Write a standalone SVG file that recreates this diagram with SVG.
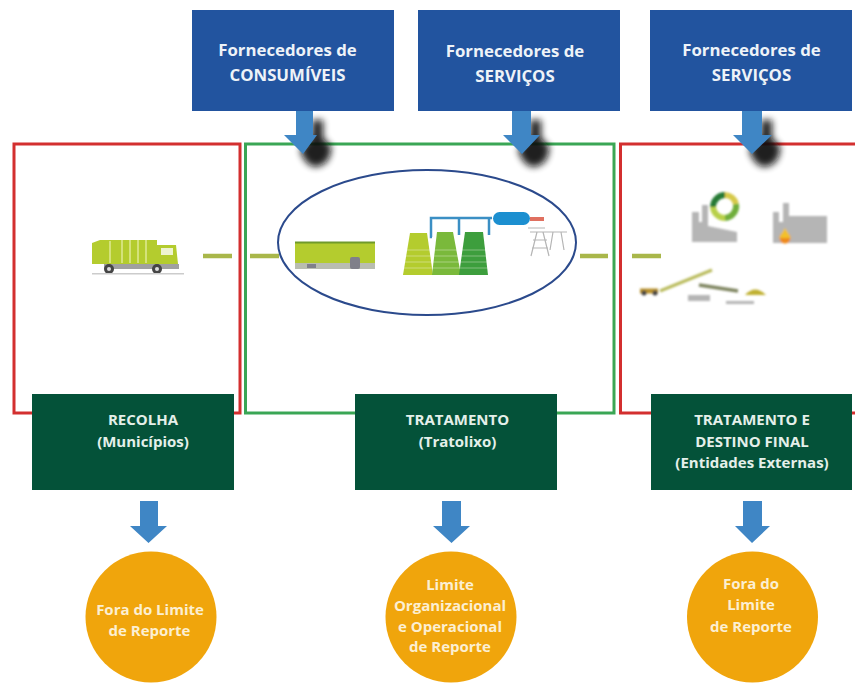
<svg xmlns="http://www.w3.org/2000/svg" width="855" height="684" viewBox="0 0 855 684">
<style>
text{font-family:"Open Sans","Noto Sans",sans-serif;font-weight:700;text-anchor:middle}
.sup{fill:#22549f}.tr{fill:#045239}.lim{fill:#f0a50c}
.t16{font-size:16.8px;fill:#eef3f8}.t14{font-size:15px;fill:#e4f0ea}.t13{font-size:15px;fill:#fcefd2}
.dash{stroke:#a9b74a;stroke-width:4.5;fill:none}
.frame{fill:none;stroke-width:3}
.arr{fill:#3f86c5}
</style>
<defs>
<filter id="blur" filterUnits="userSpaceOnUse" x="270" y="100" width="540" height="90"><feGaussianBlur stdDeviation="3.500"/></filter>
<filter id="soft" x="-10%" y="-10%" width="120%" height="120%"><feGaussianBlur stdDeviation="0.6"/></filter>
<filter id="soft2" x="-10%" y="-10%" width="120%" height="120%"><feGaussianBlur stdDeviation="0.9"/></filter>
<path id="sh" d="M312 120H323V138L331 146Q332 164 316 167Q305 166 300 150L312 135Z"/>
</defs>
<rect width="855" height="684" fill="#fff"/>
<g id="frames">
<rect class="frame" x="14" y="144" width="226" height="269" stroke="#d32f2f"/>
<rect class="frame" x="245.500" y="144" width="368.500" height="269" stroke="#3aa655"/>
<path class="frame" d="M855 144H620.500V413H855" stroke="#d32f2f"/>
</g>
<g id="connectors">
<path class="dash" d="M203 256H232M250 256H279M580 256H608M632 256H661"/>
</g>
<g id="supplier-arrows">
<g fill="#0a0a0a" opacity="0.92" filter="url(#blur)">
<use href="#sh"/><use href="#sh" x="218"/><use href="#sh" x="449"/>
</g>
<path class="arr" d="M296 111H313V135H317L303 154L284 135H296Z"/>
<path class="arr" d="M512 111H531V135H540L522 154L503 135H512Z"/>
<path class="arr" d="M742 111H762V135H772L752 154L733 135H742Z"/>
</g>
<g id="sup-consumiveis"><rect class="sup" x="192" y="10" width="202" height="101"/><text class="t16" x="287.500" y="56">Fornecedores de</text><text class="t16" x="287.500" y="81">CONSUMÍVEIS</text></g>
<g id="sup-servicos-1"><rect class="sup" x="418" y="10" width="202" height="101"/><text class="t16" x="515" y="57">Fornecedores de</text><text class="t16" x="515" y="82">SERVIÇOS</text></g>
<g id="sup-servicos-2"><rect class="sup" x="650" y="10" width="202" height="101"/><text class="t16" x="751.500" y="56">Fornecedores de</text><text class="t16" x="751.500" y="81">SERVIÇOS</text></g>
<g id="truck" filter="url(#soft)">
<path d="M92 243L100 240H157V264H92Z" fill="#b4cc2e"/>
<path d="M110 241V263M122 240V263M130 240V263M138 240V263M146 240V263" stroke="#d4e27a" stroke-width="2"/>
<path d="M157 245H176L178 264H157Z" fill="#b4cc2e"/>
<rect x="161" y="248" width="12" height="7" fill="#eef3d0"/>
<rect x="104" y="264" width="75" height="5" fill="#a0a0a0"/>
<circle cx="109" cy="269" r="5" fill="#444"/><circle cx="157" cy="269" r="5" fill="#444"/>
<circle cx="109" cy="269" r="2" fill="#ddd"/><circle cx="157" cy="269" r="2" fill="#ddd"/>
<rect x="92" y="273" width="92" height="1.500" fill="#ccc"/>
</g>
<g id="treatment-plant">
<ellipse cx="427" cy="242.500" rx="149" ry="72.500" fill="none" stroke="#2b4a8c" stroke-width="2"/>
<g filter="url(#soft)">
<rect x="295" y="243" width="80" height="20" fill="#b4cc2e"/>
<rect x="295" y="241.500" width="80" height="2" fill="#6f9a2a"/>
<rect x="295" y="263" width="80" height="6" fill="#b9bdb0"/>
<rect x="350" y="257" width="10" height="12" rx="2" fill="#80808a"/>
<rect x="307" y="264" width="9" height="4" fill="#80808a"/>
<path d="M432 237H431V218H492M459 235V218M489 235V218" fill="none" stroke="#3b8fc4" stroke-width="2.500"/>
<rect x="493" y="212" width="37" height="13" rx="6.500" fill="#1c8fd0"/>
<path d="M530 219H544" stroke="#e07060" stroke-width="4"/>
<path d="M403 275L410 233H427L433 275Z" fill="#b4cc2e"/>
<path d="M432 275L437 232H453L461 275Z" fill="#7ab93a"/>
<path d="M459 275L465 232H483L488 275Z" fill="#3d9e3c"/>
<path d="M404 250H488M404 256H488M404 262H488M404 268H488" stroke="#fff" stroke-opacity=".35" stroke-width="1"/>
<path d="M537 232L531 256M543 232L549 256M533 240H547M532 248H548M553 232L550 250M561 232L564 250M530 232H567M528 228H545" fill="none" stroke="#b5b5b5" stroke-width="1.200"/>
</g>
</g>
<g id="external-treatment" filter="url(#soft2)">
<path d="M692 242V212H699V222H702V205H708V226L737 232V242Z" fill="#b5b5b5"/>
<path d="M713 207A12 12 0 0 1 725 195" stroke="#257a35" stroke-width="6" fill="none"/>
<path d="M725 195A12 12 0 0 1 736 204" stroke="#d6c94a" stroke-width="6" fill="none"/>
<path d="M736 204A12 12 0 0 1 725 218" stroke="#6fae3a" stroke-width="6" fill="none"/>
<path d="M725 218A12 12 0 0 1 713 207" stroke="#b8d04a" stroke-width="6" fill="none"/>
<path d="M773 243V212H779V222H783V203H789V216H827V243Z" fill="#b5b5b5"/>
<circle cx="785" cy="238" r="5.500" fill="#ef8a1d"/>
<path d="M785 228L791 238H779Z" fill="#f2c02a"/>
<path d="M640 291H658" stroke="#b8902a" stroke-width="5"/>
<circle cx="644" cy="293" r="2.500" fill="#444"/><circle cx="655" cy="293" r="2.500" fill="#444"/>
<path d="M660 291L712 270" stroke="#b9bb5c" stroke-width="3"/>
<path d="M699 285L738 291" stroke="#7f8560" stroke-width="3.500"/>
<rect x="688" y="295" width="22" height="6" fill="#b5b5b5"/>
<rect x="726" y="301" width="28" height="3" fill="#b5b5b5"/>
<path d="M745 295Q755 284 766 295Z" fill="#c0b030"/>
</g>
<g id="stage-arrows">
<path class="arr" d="M140 501H158V526H167L148.500 543L130 526H140Z"/>
<path class="arr" d="M442 501H461V526H470L451.500 543L433 526H442Z"/>
<path class="arr" d="M743 501H762V526H770L752 543L735 526H743Z"/>
</g>
<g id="recolha"><rect class="tr" x="32" y="394" width="202" height="96"/><text class="t14" x="143" y="425">RECOLHA</text><text class="t14" x="143" y="447">(Municípios)</text></g>
<g id="tratamento"><rect class="tr" x="355" y="394" width="202" height="96"/><text class="t14" x="457.500" y="425">TRATAMENTO</text><text class="t14" x="457.500" y="447">(Tratolixo)</text></g>
<g id="tratamento-final"><rect class="tr" x="651" y="394" width="201" height="96"/><text class="t14" x="752" y="425">TRATAMENTO E</text><text class="t14" x="752" y="447">DESTINO FINAL</text><text class="t14" x="752" y="468">(Entidades Externas)</text></g>
<g id="fora-1"><circle class="lim" cx="151" cy="617" r="65.500"/><text class="t13" x="150" y="615">Fora do Limite</text><text class="t13" x="149.500" y="636">de Reporte</text></g>
<g id="limite"><circle class="lim" cx="451" cy="617" r="65.500"/><text class="t13" x="450" y="590">Limite</text><text class="t13" x="450" y="611">Organizacional</text><text class="t13" x="450" y="632">e Operacional</text><text class="t13" x="450" y="652">de Reporte</text></g>
<g id="fora-2"><circle class="lim" cx="752.500" cy="617" r="65.500"/><text class="t13" x="751" y="589">Fora do</text><text class="t13" x="751" y="610">Limite</text><text class="t13" x="751" y="632">de Reporte</text></g>
</svg>
